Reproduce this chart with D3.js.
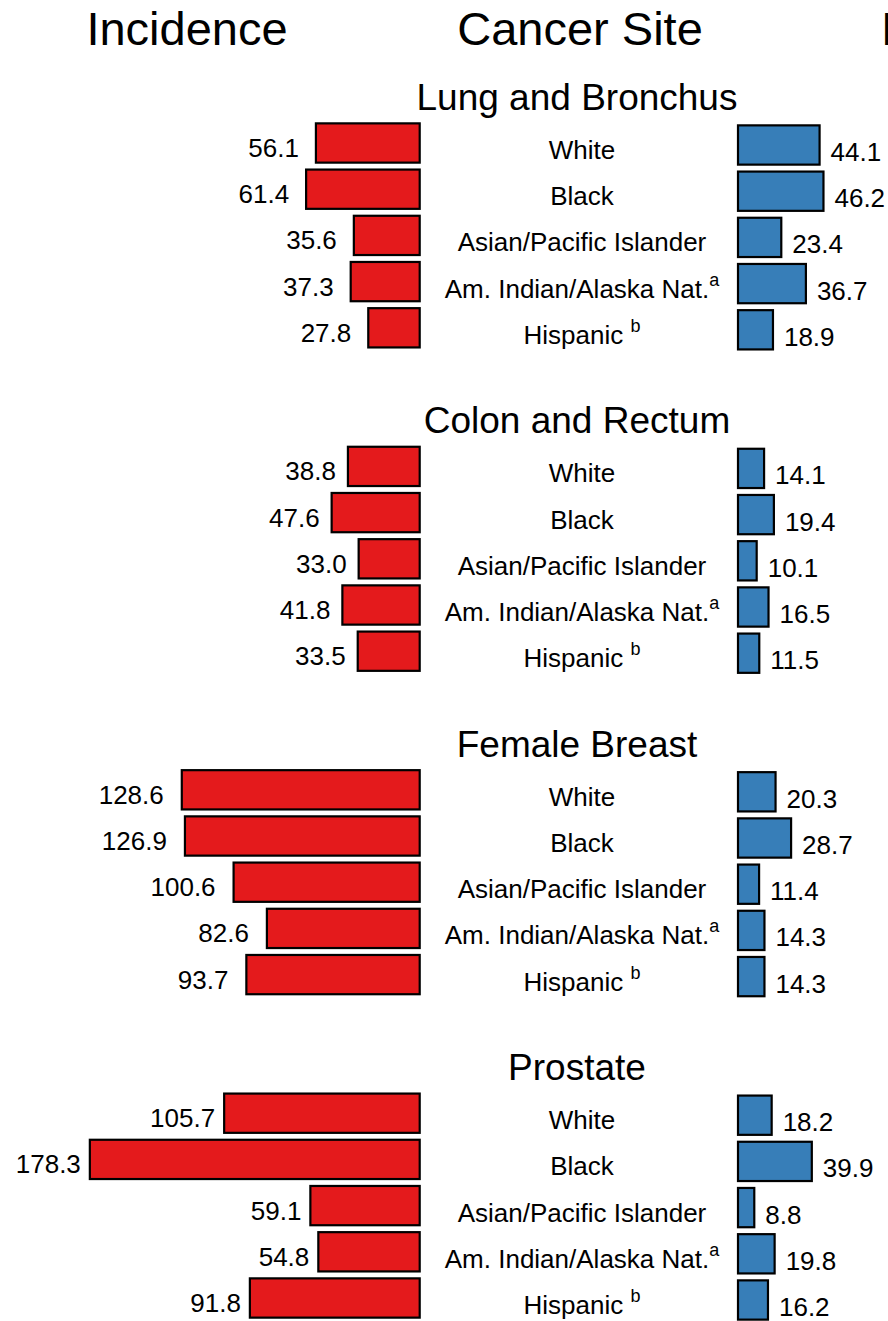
<!DOCTYPE html>
<html>
<head>
<meta charset="utf-8">
<style>
  body { margin: 0; background: #fff; }
  text { font-family: "Liberation Sans", Arial, sans-serif; fill: #000; }
</style>
</head>
<body>
<svg width="888" height="1321"></svg>
<script src="https://d3js.org/d3.v7.min.js"></script>
<script>

var sites = ["Lung and Bronchus", "Colon and Rectum", "Female Breast", "Prostate"];
var groups = ["White", "Black", "Asian/Pacific Islander", "Am. Indian/Alaska Nat.", "Hispanic "];
var groupSup = ["", "", "", "a", "b"];
var headers = ["Incidence", "Cancer Site", "Mortality"];

var lungInc = [56.1, 61.4, 35.6, 37.3, 27.8];
var lungMort = [44.1, 46.2, 23.4, 36.7, 18.9];
var colonInc = [38.8, 47.6, 33.0, 41.8, 33.5];
var colonMort = [14.1, 19.4, 10.1, 16.5, 11.5];
var breastInc = [128.6, 126.9, 100.6, 82.6, 93.7];
var breastMort = [20.3, 28.7, 11.4, 14.3, 14.3];
var prostateInc = [105.7, 178.3, 59.1, 54.8, 91.8];
var prostateMort = [18.2, 39.9, 8.8, 19.8, 16.2];

var incBySite = [lungInc, colonInc, breastInc, prostateInc];
var mortBySite = [lungMort, colonMort, breastMort, prostateMort];

var svg = d3.select("svg"),
    fmt = d3.format(".1f");

// gap between red label and its bar differs a little per panel in the original
var incGap = [17, 12, 18, 9];

// one slot per line: site title, five groups, one blank line
var slots = [], rows = [];
sites.forEach(function(s, i) {
  slots.push(s + "|title");
  groups.forEach(function(g, j) {
    slots.push(s + "|" + j);
    rows.push({site: i, group: g, sup: groupSup[j], key: s + "|" + j,
               inc: incBySite[i][j], mort: mortBySite[i][j]});
  });
  slots.push(s + "|gap");
});

var step = 46.2, top0 = 73.7;
var y = d3.scaleBand()
    .domain(slots)
    .range([top0, top0 + slots.length * step])
    .paddingInner(0.15)
    .paddingOuter(0.075);

var xInc = d3.scaleLinear().domain([0, 180]).range([419.7, 419.7 - 333]);
var xMort = d3.scaleLinear().domain([0, 180]).range([738, 738 + 333]);

function mid(k) { return y(k) + y.bandwidth() / 2; }

// column headers (the last one runs off the right edge, as in the original)
svg.selectAll(".header")
  .data(headers)
  .enter().append("text")
    .attr("class", "header")
    .attr("x", function(d, i) { return [187, 580, 970][i]; })
    .attr("y", 45)
    .attr("text-anchor", "middle")
    .attr("font-size", "47px")
    .text(function(d) { return d; });

// site titles
svg.selectAll(".site")
  .data(sites)
  .enter().append("text")
    .attr("class", "site")
    .attr("x", 577)
    .attr("y", function(d) { return mid(d + "|title") + 13; })
    .attr("text-anchor", "middle")
    .attr("font-size", "37px")
    .text(function(d) { return d; });

// incidence bars
svg.selectAll(".inc")
  .data(rows)
  .enter().append("rect")
    .attr("class", "inc")
    .attr("x", function(d) { return xInc(d.inc); })
    .attr("y", function(d) { return y(d.key); })
    .attr("width", function(d) { return xInc(0) - xInc(d.inc); })
    .attr("height", y.bandwidth())
    .attr("fill", "#E41A1C")
    .attr("stroke", "#000")
    .attr("stroke-width", 2.2);

svg.selectAll(".incLabel")
  .data(rows)
  .enter().append("text")
    .attr("class", "incLabel")
    .attr("x", function(d) { return xInc(d.inc) - incGap[d.site]; })
    .attr("y", function(d) { return mid(d.key) + 14; })
    .attr("text-anchor", "end")
    .attr("font-size", "26px")
    .text(function(d) { return fmt(d.inc); });

// mortality bars
svg.selectAll(".mort")
  .data(rows)
  .enter().append("rect")
    .attr("class", "mort")
    .attr("x", xMort(0))
    .attr("y", function(d) { return y(d.key) + 2; })
    .attr("width", function(d) { return xMort(d.mort) - xMort(0); })
    .attr("height", y.bandwidth())
    .attr("fill", "#377EB8")
    .attr("stroke", "#000")
    .attr("stroke-width", 2.2);

svg.selectAll(".mortLabel")
  .data(rows)
  .enter().append("text")
    .attr("class", "mortLabel")
    .attr("x", function(d) { return xMort(d.mort) + 11; })
    .attr("y", function(d) { return mid(d.key) + 18; })
    .attr("text-anchor", "start")
    .attr("font-size", "26px")
    .text(function(d) { return fmt(d.mort); });

// group labels in the middle
var lab = svg.selectAll(".group")
  .data(rows)
  .enter().append("text")
    .attr("class", "group")
    .attr("x", 582)
    .attr("y", function(d) { return mid(d.key) + 16; })
    .attr("text-anchor", "middle")
    .attr("font-size", "26px");

lab.append("tspan")
    .text(function(d) { return d.group; });
lab.filter(function(d) { return d.sup; })
  .append("tspan")
    .attr("font-size", "18px")
    .attr("dy", -12)
    .text(function(d) { return d.sup; });

</script>
</body>
</html>
